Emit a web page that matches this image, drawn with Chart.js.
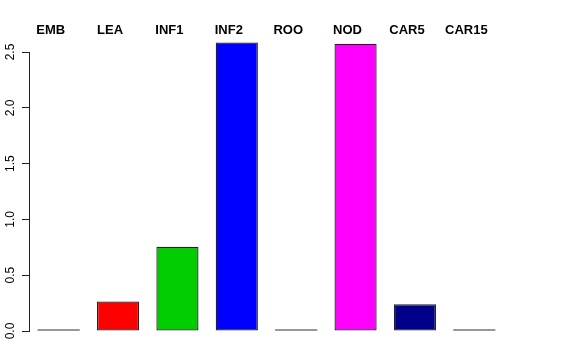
<!DOCTYPE html>
<html>
<head>
<meta charset="utf-8">
<script src="https://cdn.jsdelivr.net/npm/chart.js@4"></script>
<style>
  html, body { margin: 0; padding: 0; background: #ffffff; }
  #wrap { width: 576px; height: 360px; }
</style>
</head>
<body>
<div id="wrap"><canvas id="c" width="576" height="360"></canvas></div>
<script>
const categories = ["EMB", "LEA", "INF1", "INF2", "ROO", "NOD", "CAR5", "CAR15"];
const values = [0, 0.265, 0.755, 2.585, 0, 2.575, 0.24, 0];
const barColors = ["#333333", "#FF0000", "#00CD00", "#0000FF", "#333333", "#FF00FF", "#00008B", "#333333"];
const yTicks = [0, 0.5, 1.0, 1.5, 2.0, 2.5];

const FONT = "'Liberation Sans', Arial, Helvetica, sans-serif";

new Chart(document.getElementById('c'), {
  type: 'bar',
  data: {
    labels: categories,
    datasets: [{
      data: values,
      backgroundColor: barColors,
      borderColor: '#222222',
      borderWidth: (ctx) => (values[ctx.dataIndex] === 0 ? 0 : 1.3),
      borderSkipped: false,
      minBarLength: 1.6,
      barPercentage: 0.71,
      categoryPercentage: 1.0,
      clip: false
    }]
  },
  options: {
    responsive: false,
    animation: false,
    devicePixelRatio: 1,
    layout: { padding: { left: 0, right: 72, top: 0, bottom: 29 } },
    plugins: { legend: { display: false }, tooltip: { enabled: false } },
    scales: {
      x: {
        position: 'top',
        offset: true,
        grid: { display: false, drawTicks: false },
        border: { display: false },
        ticks: {
          color: '#000000',
          font: { family: FONT, size: 13, weight: 'bold' },
          padding: 14,
          labelOffset: -8,
          maxRotation: 0,
          autoSkip: false
        },
        afterFit: (s) => { s.height = 52; }
      },
      y: {
        min: 0,
        max: 2.5,
        afterBuildTicks: (s) => { s.ticks = yTicks.map(v => ({ value: v })); },
        grid: { drawOnChartArea: false, drawTicks: true, tickLength: 7, color: '#222222' },
        border: { display: true, color: '#222222', width: 1 },
        ticks: {
          color: '#000000',
          font: { family: FONT, size: 12 },
          minRotation: 90,
          maxRotation: 90,
          crossAlign: 'center',
          padding: 3,
          callback: (v) => Number(v).toFixed(1)
        },
        afterFit: (s) => { s.width = 29; }
      }
    }
  }
});
</script>
</body>
</html>
